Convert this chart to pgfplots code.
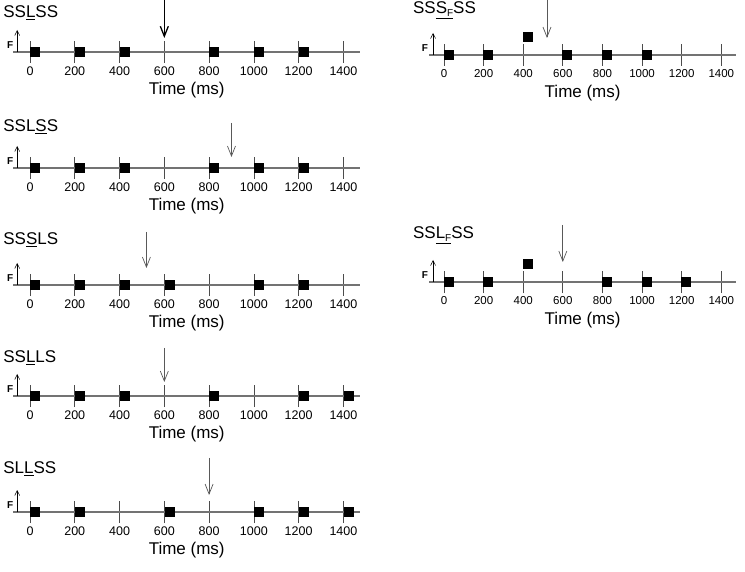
\documentclass[border=0pt]{standalone}
\usepackage{pgfplots}
\pgfplotsset{compat=1.18}
\usetikzlibrary{arrows.meta}
\usepackage{fontspec}
\setmainfont{Liberation Sans}
\definecolor{lineg}{gray}{0.45}
\definecolor{tickg}{gray}{0.3}
\definecolor{arrg}{gray}{0.35}
\tikzset{flab/.style={font=\bfseries\fontsize{10}{10}\selectfont, inner sep=0pt}}
\pgfplotsset{
 panel/.style={
   scale only axis, clip=false,
   xmin=-75, xmax=1475, ymin=-11, ymax=11, height=22pt,
   axis x line=middle, axis y line=none,
   axis line style={-, lineg, line width=1.1pt},
   xtick={0,200,...,1400},
   tick align=center, major tick length=22pt,
   tick style={tickg, line width=0.7pt},
   /pgf/number format/assume math mode=true,
   /pgf/number format/1000 sep={},
   xticklabel style={anchor=center, yshift=-8pt, font=\fontsize{12.5}{14}\selectfont},
   xlabel={Time (ms)},
   xlabel style={at={(axis cs:700,0)}, anchor=center, yshift=-38pt, font=\fontsize{17}{20}\selectfont},
   every axis title shift=0pt,
   title style={anchor=west, inner sep=0pt, font=\fontsize{17}{20}\selectfont},
   anchor=origin,
 },
 leftp/.style={panel, width=347pt},
 rightp/.style={panel, width=307pt, xticklabel style={font=\fontsize{11.5}{13}\selectfont}},
 sq/.style={only marks, mark=square*, mark size=4.5pt, black},
 farr/.style={black, mark=none, line width=0.5pt, -{Straight Barb[length=5pt,width=5pt]}},
 darr/.style={arrg, mark=none, line width=0.7pt, -{Straight Barb[length=10pt,width=8pt]}},
}
\begin{document}
\begin{tikzpicture}
\useasboundingbox (0,0) rectangle (745pt,-572pt);
% P1
\begin{axis}[leftp, at={(30pt,-52pt)}, title={SS\underline{L}SS}, title style={at={(axis cs:-120,39)}}]
\addplot[sq] coordinates {(22,0)(222,0)(422,0)(822,0)(1022,0)(1222,0)};
\addplot[black, mark=none, line width=1.3pt, -{Straight Barb[length=10pt,width=8pt]}] coordinates {(600,52)(600,14)};
\addplot[farr] coordinates {(-57,0)(-57,22)};
\node[flab] at (axis cs:-89,7) {F};
\end{axis}
% P2
\begin{axis}[leftp, at={(30pt,-168pt)}, title={SSL\underline{S}S}, title style={at={(axis cs:-120,41)}}]
\addplot[sq] coordinates {(22,0)(222,0)(422,0)(822,0)(1022,0)(1222,0)};
\addplot[darr] coordinates {(900,45)(900,11)};
\addplot[farr] coordinates {(-57,0)(-57,22)};
\node[flab] at (axis cs:-89,7) {F};
\end{axis}
% P3
\begin{axis}[leftp, at={(30pt,-285pt)}, title={SS\underline{S}LS}, title style={at={(axis cs:-120,45)}}]
\addplot[sq] coordinates {(22,0)(222,0)(422,0)(622,0)(1022,0)(1222,0)};
\addplot[darr] coordinates {(520,53)(520,17)};
\addplot[farr] coordinates {(-57,0)(-57,22)};
\node[flab] at (axis cs:-89,7) {F};
\end{axis}
% P4
\begin{axis}[leftp, at={(30pt,-396pt)}, title={SS\underline{L}LS}, title style={at={(axis cs:-120,38)}}]
\addplot[sq] coordinates {(22,0)(222,0)(422,0)(822,0)(1222,0)(1422,0)};
\addplot[darr] coordinates {(600,48)(600,14)};
\addplot[farr] coordinates {(-57,0)(-57,22)};
\node[flab] at (axis cs:-89,7) {F};
\end{axis}
% P5
\begin{axis}[leftp, at={(30pt,-512pt)}, title={SL\underline{L}SS}, title style={at={(axis cs:-120,43)}}]
\addplot[sq] coordinates {(22,0)(222,0)(622,0)(1022,0)(1222,0)(1422,0)};
\addplot[darr] coordinates {(800,54)(800,17)};
\addplot[farr] coordinates {(-57,0)(-57,22)};
\node[flab] at (axis cs:-89,7) {F};
\end{axis}
% RA
\begin{axis}[rightp, at={(444pt,-55pt)}, title={SS\underline{S\raisebox{-0.35ex}{\fontsize{10}{10}\selectfont F}}SS}, title style={at={(axis cs:-157,45)}}]
\addplot[sq] coordinates {(22,0)(222,0)(622,0)(822,0)(1022,0)};
\addplot[sq] coordinates {(422,18)};
\addplot[darr] coordinates {(520,55)(520,17)};
\addplot[farr] coordinates {(-55,0)(-55,22)};
\node[flab] at (axis cs:-96,7) {F};
\end{axis}
% RB
\begin{axis}[rightp, at={(444pt,-282pt)}, title={SS\underline{L\raisebox{-0.35ex}{\fontsize{10}{10}\selectfont F}}SS}, title style={at={(axis cs:-157,47)}}]
\addplot[sq] coordinates {(22,0)(222,0)(822,0)(1022,0)(1222,0)};
\addplot[sq] coordinates {(422,18)};
\addplot[darr] coordinates {(600,57)(600,20)};
\addplot[farr] coordinates {(-55,0)(-55,22)};
\node[flab] at (axis cs:-96,7) {F};
\end{axis}
\end{tikzpicture}
\end{document}
